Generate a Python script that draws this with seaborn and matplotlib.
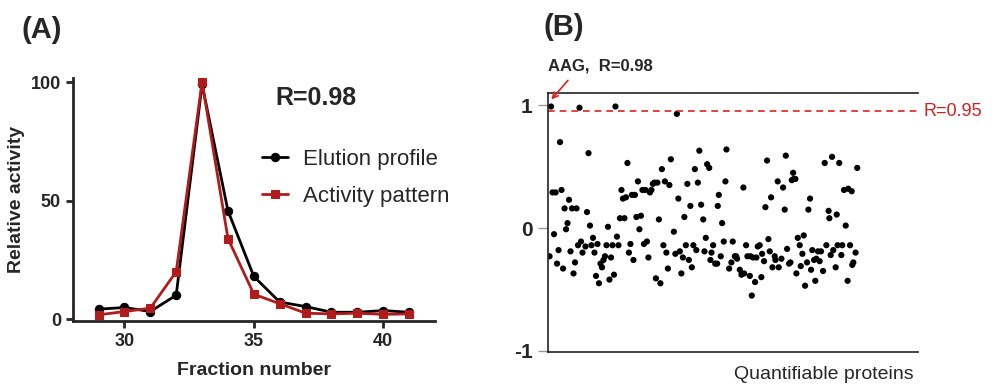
import matplotlib
matplotlib.use("Agg")
import matplotlib.pyplot as plt
import seaborn as sns

# panel A: elution profile vs activity pattern
fractions = [29, 30, 31, 32, 33, 34, 35, 36, 37, 38, 39, 40, 41]
elution = [4.2, 4.9, 3.2, 10.1, 99.0, 45.7, 18.0, 7.2, 5.3, 2.9, 2.9, 3.6, 2.9]
activity = [1.8, 3.2, 4.6, 20.0, 100.0, 34.0, 10.5, 6.5, 2.5, 2.2, 2.5, 2.0, 2.2]

# panel B: correlation of each quantifiable protein with the activity pattern
protein_rank = [
    2, 1, 3, 5, 4, 8, 7, 6, 9, 11, 10, 14, 13, 12, 15, 16, 19, 18, 17, 21,
    27, 26, 28, 22, 23, 20, 25, 30, 29, 31, 33, 32, 34, 36, 35, 38, 37, 39, 40, 42,
    41, 43, 44, 46, 47, 45, 48, 51, 49, 50, 52, 53, 54, 55, 57, 56, 58, 59, 60, 61,
    62, 63, 64, 65, 66, 67, 68, 69, 70, 71, 73, 72, 74, 75, 76, 77, 78, 79, 80, 81,
    82, 84, 85, 86, 87, 88, 89, 90, 91, 92, 93, 94, 95, 96, 97, 98, 99, 100, 101,
    102.2, 103.6, 105.3, 104.4, 106.2, 107.6, 108.4, 109.1, 110.2, 111.6,
    112.9, 113.3, 114.0, 115.3, 116.2, 117.3, 118.4, 119.1, 120.9, 122.4,
    123.3, 124.7, 125.6, 126.2, 128.0, 129.1, 130.4, 130.9, 132.2, 133.1,
    134.7, 135.1, 136.0, 136.9, 138.2, 139.1, 140.0, 141.3, 142.4, 142.9,
    144.2, 145.1, 146.2, 147.1, 148.0, 148.9, 149.8, 151.3, 151.8, 153.3,
    154.0, 155.8, 156.9, 158.0, 158.7, 159.6, 160.9, 161.8, 162.7, 163.6,
    164.0, 165.1, 165.8, 166.7, 168.0, 168.7, 169.8, 170.7, 171.6, 172.9,
    173.8, 174.9, 175.6, 176.4, 177.6, 178.4, 179.1, 180.2, 181.3, 182.2,
    183.6, 184.7, 185.8, 187.3, 187.8, 188.7, 189.6, 190.4, 192.0, 192.7,
    193.3, 194.4, 195.8, 196.4, 197.6, 198.7, 200.0, 200.4,
    201.6, 202.7, 203.1, 203.8, 205.3, 206.4,
]
protein_r = [
    0.99, -0.23, 0.29, 0.29, -0.05, 0.70, -0.18, -0.29, 0.31, 0.16,
    -0.33, 0.23, 0.04, -0.01, -0.19, 0.16, 0.16, -0.28, -0.37, 0.98,
    0.61, 0.13, 0.02, -0.11, -0.20, -0.14, -0.15, -0.08, -0.14, -0.20,
    -0.13, -0.39, -0.45, -0.32, -0.29, -0.23, -0.26, -0.14, 0.01, -0.24,
    -0.42, -0.14, -0.38, -0.07, -0.14, 0.99, 0.08, 0.08, 0.31, 0.24,
    0.25, 0.53, -0.20, -0.13, -0.26, 0.27, 0.27, 0.09, 0.38, -0.01,
    0.10, 0.31, -0.13, 0.31, -0.11, -0.24, 0.29, 0.31, 0.36, 0.37,
    0.37, -0.41, 0.07, -0.45, 0.48, -0.14, 0.38, -0.20, -0.33, 0.35,
    0.56, -0.03, -0.21, 0.93, 0.24, -0.19, -0.37, -0.24, 0.09, -0.14,
    0.36, -0.26, 0.18, -0.32, -0.14, 0.48, -0.18, 0.37, 0.63,
    0.19, 0.07, -0.08, -0.19, 0.52, 0.49, -0.26, -0.20, -0.14, -0.29,
    -0.29, 0.18, 0.27, -0.23, 0.04, -0.11, 0.38, 0.64, -0.33, -0.28,
    -0.11, -0.23, -0.23, -0.25, -0.34, -0.38, 0.33, -0.37, -0.14, -0.23,
    -0.39, -0.23, -0.55, -0.24, -0.44, -0.24, -0.15, -0.14, -0.40, -0.21,
    -0.27, 0.17, 0.55, -0.09, -0.19, 0.25, -0.32, -0.23, -0.26, 0.38,
    -0.32, -0.25, 0.33, 0.15, 0.59, -0.17, -0.29, -0.28, 0.39, 0.45,
    0.40, 0.40, -0.37, -0.08, -0.14, -0.31, -0.21, -0.06, -0.47, -0.28,
    0.15, 0.24, -0.34, -0.18, -0.26, -0.43, -0.25, -0.19, -0.27, -0.19,
    -0.35, 0.53, -0.14, 0.14, 0.08, -0.22, 0.58, -0.18, -0.32, 0.11,
    -0.14, 0.53, -0.22, -0.14, 0.31, 0.02, -0.43, 0.32,
    -0.14, 0.30, -0.30, -0.28, -0.20, 0.49,
]
threshold = 0.95

sns.set_style("ticks")
plt.rcParams["font.family"] = ["Liberation Sans", "DejaVu Sans"]
plt.rcParams["axes.unicode_minus"] = False

fig = plt.figure(figsize=(9.97, 3.85), dpi=100)
red = "#b01c1c"

# ---- panel A
ax_a = fig.add_axes([0.0729, 0.1662, 0.3634, 0.630])
sns.lineplot(x=fractions, y=elution, ax=ax_a, color="black", lw=2,
             marker="o", markersize=6, markeredgecolor="black",
             label="Elution profile")
sns.lineplot(x=fractions, y=activity, ax=ax_a, color=red, lw=2,
             marker="s", markersize=6, markeredgecolor=red,
             label="Activity pattern")
ax_a.set_xlim(28, 42)
ax_a.set_ylim(-0.8, 101.5)
ax_a.set_xticks([30, 35, 40])
ax_a.set_yticks([0, 50, 100])
for side in ["top", "right"]:
    ax_a.spines[side].set_visible(False)
for side in ["left", "bottom"]:
    ax_a.spines[side].set_linewidth(2)
ax_a.tick_params(width=2, length=5, labelsize=13)
for lbl in ax_a.get_xticklabels() + ax_a.get_yticklabels():
    lbl.set_fontweight("bold")
ax_a.set_xlabel("Fraction number", fontsize=14, fontweight="bold", labelpad=9)
ax_a.set_ylabel("Relative activity", fontsize=14, fontweight="bold", labelpad=4)
ax_a.legend(loc="upper left", bbox_to_anchor=(0.522, 0.71), frameon=False,
            fontsize=16, handlelength=1.2, handletextpad=0.65,
            labelspacing=0.72, borderaxespad=0, borderpad=0)
ax_a.text(0.56, 0.92, "R=0.98", transform=ax_a.transAxes, fontsize=18,
          fontweight="bold", va="center")

# ---- panel B
ax_b = fig.add_axes([0.5497, 0.0857, 0.3711, 0.6727])
sns.scatterplot(x=protein_rank, y=protein_r, ax=ax_b, color="black",
                s=20, edgecolor="none")
ax_b.axhline(threshold, color="#e02020", ls=(0, (4, 3)), lw=1.2)
ax_b.set_xlim(0, 247)
ax_b.set_ylim(-1.01, 1.1)
ax_b.set_yticks([-1, 0, 1])
ax_b.set_xticks([])
ax_b.spines["right"].set_visible(False)
for side in ["left", "top", "bottom"]:
    ax_b.spines[side].set_linewidth(1.2)
    ax_b.spines[side].set_color("#222222")
ax_b.tick_params(axis="y", length=7, width=1, color="#999999",
                 labelsize=15, pad=4)
for lbl in ax_b.get_yticklabels():
    lbl.set_fontweight("bold")
ax_b.text(1.015, threshold, "R=0.95", transform=ax_b.get_yaxis_transform(),
          color="#d02020", fontsize=13, va="center")
ax_b.annotate("", xy=(1, 1.03), xytext=(14.5, 1.22),
              arrowprops=dict(arrowstyle="->", color="#e02020", lw=1.2),
              annotation_clip=False)
ax_b.text(0, 1.32, "AAG,  R=0.98", fontsize=12, fontweight="bold",
          va="center")
ax_b.text(0.987, -0.085, "Quantifiable proteins", transform=ax_b.transAxes,
          fontsize=14, ha="right", va="center")

fig.text(0.022, 0.922, "(A)", fontsize=21, fontweight="bold", va="center")
fig.text(0.545, 0.93, "(B)", fontsize=21, fontweight="bold", va="center")

fig.savefig("out.png", dpi=100)
